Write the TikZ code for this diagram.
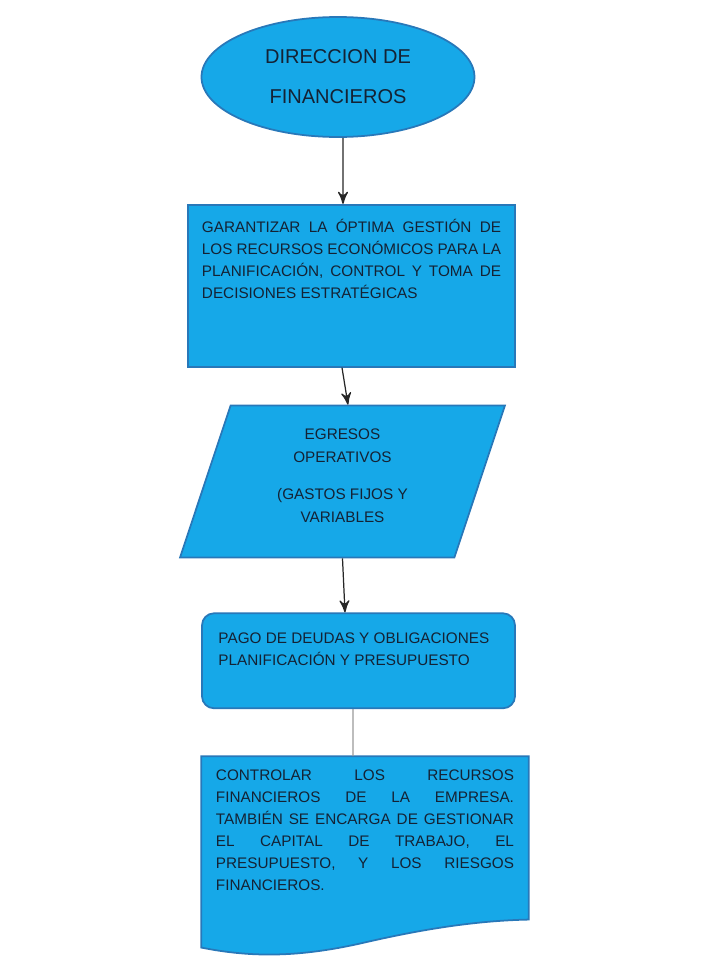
\documentclass[tikz,border=0pt]{standalone}
\usepackage{fontspec}
\setmainfont{Liberation Sans}
\usepackage{tikz}
\usetikzlibrary{arrows,positioning,shapes.geometric,backgrounds}
\definecolor{flujo}{RGB}{22,168,232}
\definecolor{borde}{RGB}{40,120,185}
\definecolor{letra}{RGB}{20,34,52}
\tikzset{>=stealth'}
\tikzstyle{forma}=[draw=borde, fill=flujo, text=letra, line width=0.5pt]
\tikzstyle{caja}=[forma, rectangle, inner sep=0pt]
\tikzstyle{flecha}=[->, line width=0.35pt, black!85]
\newcommand{\textocaja}[3]{\parbox[t][#1][t]{#2}{\fontsize{4.35}{6.26}\selectfont\strut #3}}

\begin{document}
\begin{tikzpicture}
	\useasboundingbox (0,0) rectangle (7.2,9.8);
	% formas
	\node[forma, ellipse, minimum width=2.73cm, minimum height=1.2cm, inner sep=0pt,
		align=center, font=\fontsize{5.7}{11.4}\selectfont] (dir) at (3.38,9.03)
		{DIRECCION DE\\FINANCIEROS};
	\node[caja, inner xsep=0.14cm, inner ysep=0.125cm] (garantizar)
		[below=0.66cm of dir, xshift=0.135cm]
		{\textocaja{1.37cm}{2.99cm}{GARANTIZAR LA ÓPTIMA GESTIÓN DE\linebreak
			LOS RECURSOS ECONÓMICOS PARA LA\linebreak
			PLANIFICACIÓN, CONTROL Y TOMA DE\linebreak
			DECISIONES ESTRATÉGICAS}};
	\node[forma, trapezium, trapezium left angle=66.8, trapezium right angle=113.2,
		trapezium stretches=true, minimum width=3.25cm, minimum height=1.52cm,
		inner sep=0pt] (egresos)
		[below=0.37cm of garantizar, xshift=-0.09cm]
		{\parbox{2cm}{\centering\fontsize{4.35}{6.5}\selectfont
			EGRESOS\\OPERATIVOS\\[4pt](GASTOS FIJOS Y\\VARIABLES\par\vspace{0.12cm}}};
	\node[caja, rounded corners=0.12cm, inner xsep=0.165cm, inner ysep=0.145cm] (pago)
		[below=0.54cm of egresos, xshift=0.16cm]
		{\textocaja{0.66cm}{2.8cm}{PAGO DE DEUDAS Y OBLIGACIONES\\
			PLANIFICACIÓN Y PRESUPUESTO}};
	\node[rectangle, text=letra, inner xsep=0.14cm, inner ysep=0.085cm] (controlar)
		[below=0.47cm of pago, xshift=0.065cm]
		{\textocaja{1.81cm}{2.98cm}{CONTROLAR LOS RECURSOS\linebreak
			FINANCIEROS DE LA EMPRESA.\linebreak
			TAMBIÉN SE ENCARGA DE GESTIONAR\linebreak
			EL CAPITAL DE TRABAJO, EL\linebreak
			PRESUPUESTO, Y LOS RIESGOS\linebreak
			FINANCIEROS.}};
	\begin{scope}[on background layer]
		\draw[forma] (controlar.north west) -- (controlar.north east)
			-- ([yshift=0.36cm]controlar.south east)
			.. controls +(-0.48,-0.01) and +(0.65,0.15) .. ([xshift=1.63cm,yshift=0.13cm]controlar.south west)
			.. controls +(-0.65,-0.15) and +(0.5,-0.1) .. ([yshift=0.08cm]controlar.south west)
			-- cycle;
	\end{scope}
	% conectores
	\draw[flecha] ([xshift=0.05cm]dir.south) -- ([xshift=-0.085cm]garantizar.north);
	\draw[flecha] ([xshift=-0.095cm]garantizar.south) -- ([xshift=0.055cm]egresos.north);
	\draw[flecha] (egresos.south) -- ([xshift=-0.135cm]pago.north);
	\draw[line width=0.35pt, black!40] ([xshift=-0.055cm]pago.south) -- ([xshift=-0.12cm]controlar.north);
\end{tikzpicture}
\end{document}
